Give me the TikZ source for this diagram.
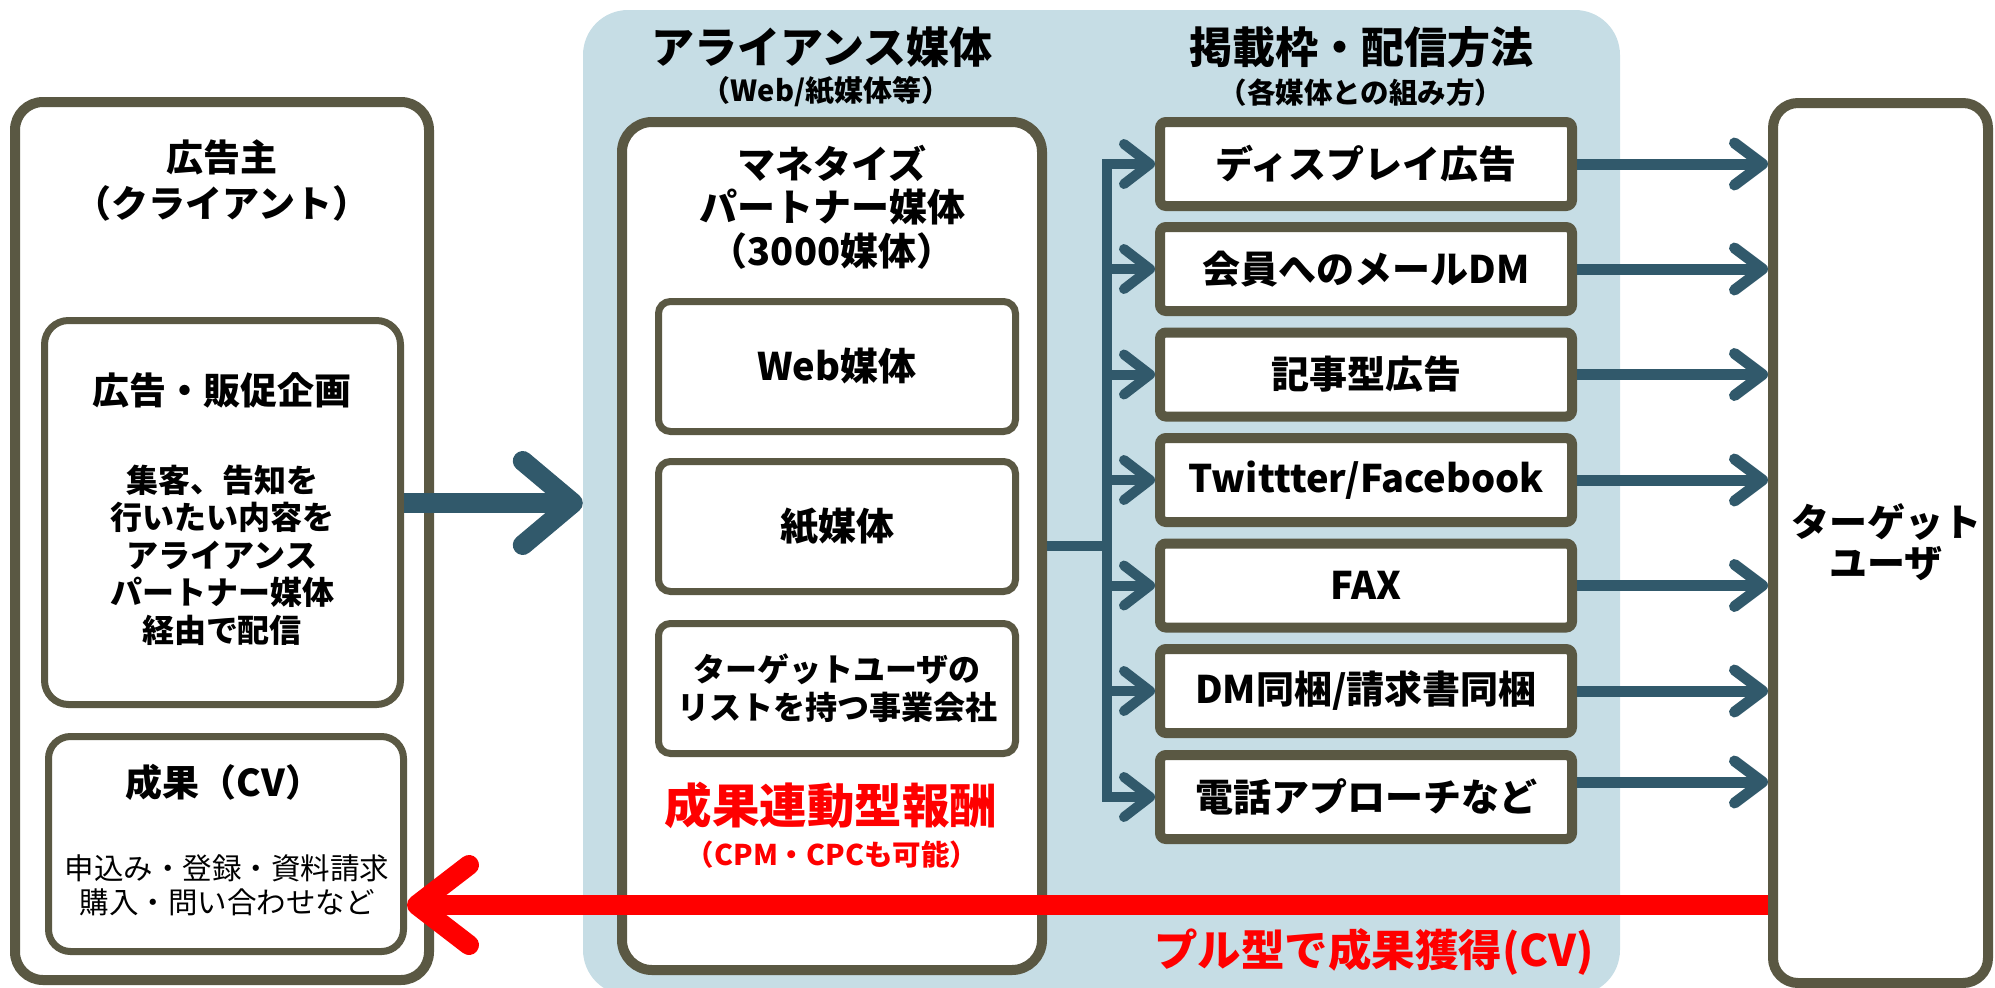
\documentclass[tikz,border=0pt]{standalone}
\usepackage{fontspec}
\setmainfont{Noto Sans CJK JP}
\usetikzlibrary{arrows.meta,calc}
\definecolor{frameC}{HTML}{5A5843}
\definecolor{arrowC}{HTML}{31596B}
\definecolor{panelC}{HTML}{C6DDE5}
\definecolor{redC}{HTML}{FF0000}
\newcommand{\myfs}[2]{\fontsize{#1}{#2}\selectfont}
\begin{document}
\begin{tikzpicture}[x=1pt,y=-1pt,
  frame/.style={draw=frameC, fill=white, rounded corners=#1, inner sep=0pt, align=center},
  txt/.style={inner sep=0pt, align=center},
  bigarr/.style={draw=arrowC, line width=20pt, -{Straight Barb[round, length=50pt, width=84pt]}},
  redarr/.style={draw=redC, line width=20pt, -{Straight Barb[round, length=52pt, width=80pt]}},
  branch/.style={draw=arrowC, line width=10pt, -{Straight Barb[round, length=26pt, width=40pt]}},
  rarr/.style={draw=arrowC, line width=11pt, -{Straight Barb[round, length=28pt, width=42pt]}},
  mbox/.style={frame=6pt, line width=10pt, minimum width=412pt, minimum height=84pt, font=\myfs{38}{44}\bfseries},
  sbox/.style={frame=12pt, line width=7pt, minimum width=357pt, minimum height=130pt}
]
\useasboundingbox (0,0) rectangle (1995,988);

% panel
\node[fill=panelC, rounded corners=45pt, minimum width=1037pt, minimum height=985pt, inner sep=0pt] (panel) at (1101.5,502.5) {};
\node[txt, font=\myfs{43}{48}\bfseries] (panelT1) at (822,47) {アライアンス媒体};
\node[txt, font=\myfs{29}{32}\bfseries] (panelT2) at (826,92) {（Web/紙媒体等）};
\node[txt, font=\myfs{43}{48}\bfseries] (methT1) at (1361,47) {掲載枠・配信方法};
\node[txt, font=\myfs{28.5}{32}\bfseries] (methT2) at (1361,93) {（各媒体との組み方）};

% advertiser
\node[frame=28pt, line width=10pt, minimum width=414pt, minimum height=878pt] (adv) at (222,541) {};
\node[txt, font=\myfs{37}{46}\bfseries] (advT) at (222,180) {広告主\\（クライアント）};
\node[frame=24pt, line width=7pt, minimum width=356pt, minimum height=384pt] (plan) at (222.5,512.5) {};
\node[txt, font=\myfs{37}{44}\bfseries] (planT) at (222,390) {広告・販促企画};
\node[txt, font=\myfs{32}{37.5}\bfseries] (planB) at (222,555) {集客、告知を\\行いたい内容を\\アライアンス\\パートナー媒体\\経由で配信};
\node[frame=22pt, line width=7pt, minimum width=355pt, minimum height=215pt] (cv) at (226,844) {};
\node[txt, font=\myfs{37}{44}\bfseries] (cvT) at (224,782) {成果（CV）};
\node[txt, font=\myfs{29.5}{34}] (cvB) at (227,885) {申込み・登録・資料請求\\購入・問い合わせなど};

% monetize partner
\node[frame=30pt, line width=10pt, minimum width=420pt, minimum height=848pt] (mon) at (832,546) {};
\node[txt, font=\myfs{38}{43.5}\bfseries] (monT) at (832,207) {マネタイズ\\パートナー媒体\\（3000媒体）};
\node[sbox, font=\myfs{38}{44}\bfseries] (web) at (837,366.5) {Web媒体};
\node[sbox, font=\myfs{38}{44}\bfseries] (paper) at (837,526.5) {紙媒体};
\node[sbox, font=\myfs{32}{38}\bfseries] (list) at (837,688.5) {ターゲットユーザの\\リストを持つ事業会社};
\node[txt, text=redC, font=\myfs{47.5}{52}\bfseries] (redT1) at (831,805) {成果連動型報酬};
\node[txt, text=redC, font=\myfs{28.5}{32}\bfseries] (redT2) at (832,855) {（CPM・CPCも可能）};

% methods
\node[mbox] (m1) at (1366,164) {ディスプレイ広告};
\node[mbox] (m2) at (1366,269) {会員へのメールDM};
\node[mbox] (m3) at (1366,374.5) {記事型広告};
\node[mbox] (m4) at (1366,480) {Twittter/Facebook};
\node[mbox] (m5) at (1366,585.5) {FAX};
\node[mbox] (m6) at (1366,691) {DM同梱/請求書同梱};
\node[mbox] (m7) at (1366,797) {電話アプローチなど};

% target
\node[frame=25pt, line width=10pt, minimum width=215pt, minimum height=880pt] (target) at (1880.5,543) {};
\node[txt, font=\myfs{38}{41}\bfseries] (targetT) at (1886,542) {ターゲット\\ユーザ};

\node[txt, text=redC, font=\myfs{43.5}{48}\bfseries] (pullT) at (1374,952) {プル型で成果獲得(CV)};

% connectors
\coordinate (hub) at (1107,546);
\draw[draw=arrowC, line width=10pt] (mon.east) -- (hub);
\foreach \i in {1,...,7} {
  \draw[branch] (hub) |- (m\i.west);
}
\foreach \i in {1,...,6} {
  \draw[rarr] (m\i.east) -- (target.west |- m\i.east);
}
\coordinate (r7) at ($(m7.east)+(0,-15)$);
\draw[rarr] (r7) -- (target.west |- r7);

\coordinate (bigy) at (0,503);
\draw[bigarr] (plan.east |- bigy) -- (panel.west |- bigy);

\coordinate (redy) at (0,905);
\draw[redarr] (target.west |- redy) -- (cv.east |- redy);
\end{tikzpicture}
\end{document}
